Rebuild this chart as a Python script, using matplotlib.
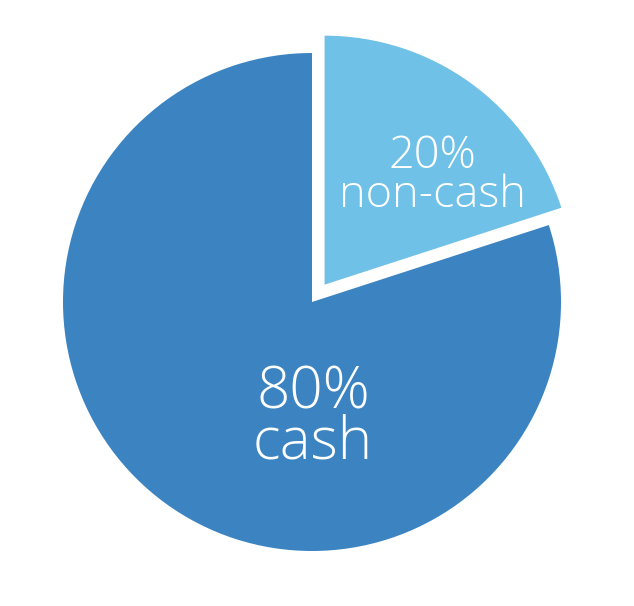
import matplotlib.pyplot as plt

labels = ["non-cash", "cash"]
shares = [20, 80]
colors = ["#70c1e7", "#3b84c1"]
explode = [0.086, 0]

fig = plt.figure(figsize=(6.34, 6.06), dpi=100)
ax = fig.add_axes([0, 0, 1, 1])

ax.pie(shares, colors=colors, explode=explode, startangle=90,
       counterclock=False, radius=1, wedgeprops=dict(linewidth=0))

# pixel layout: pie centre at (312, 302) from top-left, radius 249 px
r = 249.
ax.set_xlim(-312 / r, (634 - 312) / r)
ax.set_ylim(-(606 - 302) / r, 302 / r)
ax.set_aspect("equal")
ax.axis("off")

font = "Open Sans"
# small slice label
ax.text(0.482, 0.382, f"{shares[0]}%\n{labels[0]}", color="w", fontsize=32.5,
        family=font, weight="light", ha="center", va="baseline",
        multialignment="center", linespacing=0.82)
# big slice label
ax.text(0.004, -0.63, f"{shares[1]}%\n{labels[1]}", color="w", fontsize=42,
        family=font, weight="light", ha="center", va="baseline",
        multialignment="center", linespacing=0.8)

plt.savefig("out.png", dpi=100, facecolor="w")
plt.close(fig)
